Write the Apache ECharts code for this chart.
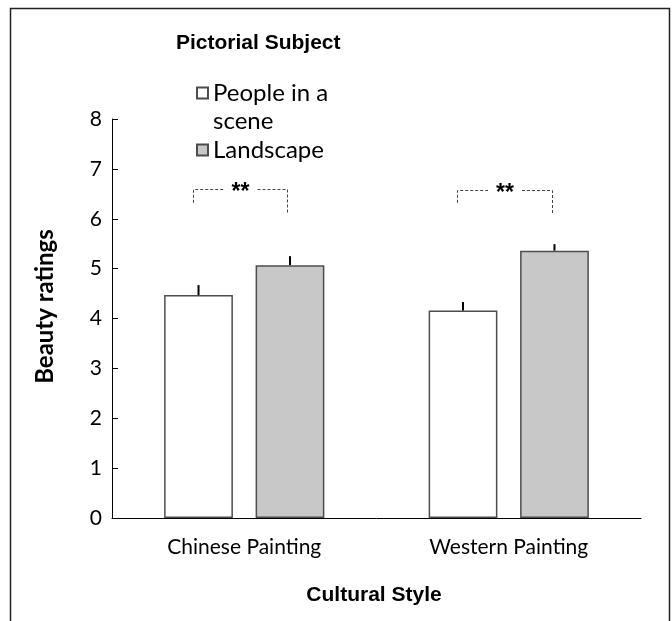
<!DOCTYPE html>
<html>
<head>
<meta charset="utf-8">
<script src="https://cdn.jsdelivr.net/npm/echarts@6/dist/echarts.min.js"></script>
<style>
  html, body { margin: 0; padding: 0; background: #fff; }
  #chart { width: 672px; height: 621px; }
</style>
</head>
<body>
<div id="chart"></div>
<script>
// Mean beauty ratings by cultural style and pictorial subject
const categories = ['Chinese Painting', 'Western Painting'];
const seriesNames = ['People in a scene', 'Landscape'];
const peopleMeans = [4.47, 4.16];
const landscapeMeans = [5.07, 5.36];
const peopleErr = [0.20, 0.17];
const landscapeErr = [0.18, 0.13];

// Significance brackets: top of bracket, end of left leg, end of right leg
const bracketTop = [6.60, 6.58];
const bracketLeftEnd = [6.32, 6.32];
const bracketRightEnd = [6.12, 6.10];
const sigLabels = ['**', '**'];

const yMin = 0, yMax = 8, yStep = 1;

const BAR_FRAC = 0.26;   // bar width as share of category band
const GAP_FRAC = 0.33;   // gap between paired bars as share of bar width
const BODY_FONT = 'Lato, "Open Sans", sans-serif';
const BOLD_FONT = '"Liberation Sans", Arial, sans-serif';

function barOffset(band, side) {
  const bw = band * BAR_FRAC;
  return side * (bw + bw * GAP_FRAC) / 2;
}

function errorBarSeries(means, errs, side) {
  return {
    type: 'custom',
    silent: true,
    z: 5,
    data: means.map((m, i) => [i, m, errs[i]]),
    renderItem: function (params, api) {
      const i = api.value(0), m = api.value(1), e = api.value(2);
      const band = api.size([1, 0])[0];
      const p0 = api.coord([i, m]);
      const p1 = api.coord([i, m + e]);
      const x = p0[0] + barOffset(band, side);
      return {
        type: 'line',
        shape: { x1: x, y1: p0[1], x2: x, y2: p1[1] },
        style: { stroke: '#000', lineWidth: 2 }
      };
    }
  };
}

const bracketSeries = {
  type: 'custom',
  silent: true,
  z: 6,
  data: categories.map((c, i) => [i, bracketTop[i], bracketLeftEnd[i], bracketRightEnd[i]]),
  renderItem: function (params, api) {
    const i = api.value(0);
    const band = api.size([1, 0])[0];
    const c = api.coord([i, api.value(1)]);
    const yL = api.coord([i, api.value(2)])[1];
    const yR = api.coord([i, api.value(3)])[1];
    const xL = Math.round(c[0] - band * 0.195) + 0.5;
    const xR = Math.round(c[0] + band * 0.163) + 0.5;
    const yT = Math.round(c[1]) + 0.5;
    const xMid = (xL + xR) / 2;
    const half = 17;
    const ls = { fill: null, stroke: '#444', lineWidth: 1, lineDash: [3, 2] };
    return {
      type: 'group',
      children: [
        { type: 'polyline', shape: { points: [[xL, yL], [xL, yT], [xMid - half, yT]] }, style: ls },
        { type: 'polyline', shape: { points: [[xMid + half, yT], [xR, yT], [xR, yR]] }, style: ls },
        { type: 'text', style: {
            x: xMid, y: yT + 3, text: sigLabels[i], align: 'center', verticalAlign: 'middle',
            fill: '#000', font: 'bold 23px ' + BOLD_FONT } }
      ]
    };
  }
};

const chart = echarts.init(document.getElementById('chart'), null, { renderer: 'canvas' });

chart.setOption({
  animation: false,
  backgroundColor: '#fff',
  title: {
    text: 'Pictorial Subject',
    left: 171, top: 28,
    textStyle: { fontFamily: BOLD_FONT, fontWeight: 'bold', fontSize: 21, color: '#000' }
  },
  legend: [{
    data: [seriesNames[0]],
    orient: 'vertical',
    left: 191, top: 46,
    icon: 'rect',
    itemWidth: 11, itemHeight: 11,
    formatter: () => '\nPeople in a\nscene',
    textStyle: { fontFamily: BODY_FONT, fontSize: 24, color: '#000', lineHeight: 28 }
  }, {
    data: [seriesNames[1]],
    orient: 'vertical',
    left: 191, top: 131,
    icon: 'rect',
    itemWidth: 11, itemHeight: 11,
    textStyle: { fontFamily: BODY_FONT, fontSize: 24, color: '#000', lineHeight: 28 }
  }],
  grid: { left: 112, right: 31, top: 119, bottom: 103, containLabel: false },
  xAxis: {
    type: 'category',
    data: categories,
    name: 'Cultural Style',
    nameLocation: 'middle',
    nameGap: 67,
    nameTextStyle: { fontFamily: BOLD_FONT, fontWeight: 'bold', fontSize: 21, color: '#000', padding: [0, 5, 0, 0] },
    axisLine: { lineStyle: { color: '#000', width: 1 } },
    axisTick: { inside: true, length: 6, lineStyle: { color: '#000' } },
    axisLabel: { fontFamily: BODY_FONT, fontSize: 21, color: '#000', margin: 19 },
    splitLine: { show: false }
  },
  yAxis: {
    type: 'value',
    min: yMin, max: yMax, interval: yStep,
    name: 'Beauty ratings',
    nameLocation: 'middle',
    nameGap: 55,
    nameTextStyle: { fontFamily: BODY_FONT, fontWeight: 'bold', fontSize: 24, color: '#000', padding: [0, 0, 0, 24] },
    axisLine: { show: true, lineStyle: { color: '#000', width: 1 } },
    axisTick: { show: true, inside: true, length: 6, lineStyle: { color: '#000' } },
    axisLabel: { fontFamily: BODY_FONT, fontSize: 21, color: '#000', margin: 10 },
    splitLine: { show: false }
  },
  graphic: [{
    type: 'rect',
    silent: true,
    shape: { x: 10.5, y: 8.5, width: 659, height: 700 },
    style: { fill: null, stroke: '#222', lineWidth: 1.5 },
    z: 100
  }],
  series: [
    {
      name: seriesNames[0],
      type: 'bar',
      data: peopleMeans,
      barWidth: (BAR_FRAC * 100) + '%',
      barGap: (GAP_FRAC * 100) + '%',
      itemStyle: { color: '#ffffff', borderColor: '#4d4d4d', borderWidth: 1.5 }
    },
    {
      name: seriesNames[1],
      type: 'bar',
      data: landscapeMeans,
      barWidth: (BAR_FRAC * 100) + '%',
      barGap: (GAP_FRAC * 100) + '%',
      itemStyle: { color: '#c8c8c8', borderColor: '#4d4d4d', borderWidth: 1.5 }
    },
    errorBarSeries(peopleMeans, peopleErr, -1),
    errorBarSeries(landscapeMeans, landscapeErr, 1),
    bracketSeries
  ]
});
</script>
</body>
</html>
